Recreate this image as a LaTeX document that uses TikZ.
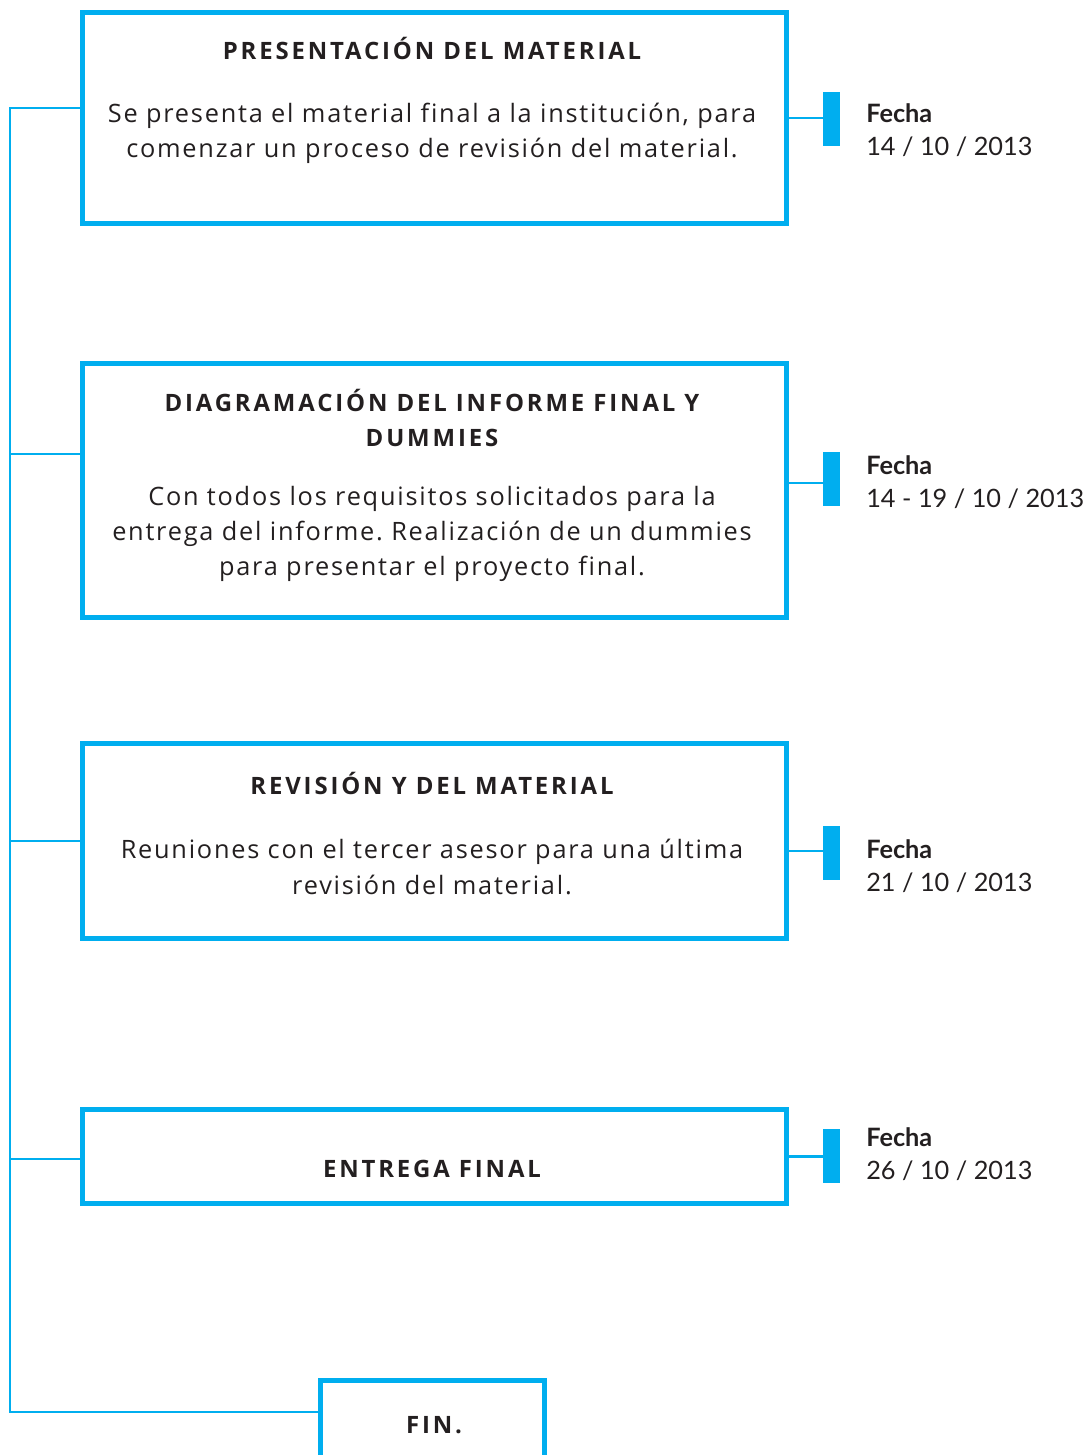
\documentclass[tikz,border=0pt]{standalone}
\usepackage{fontspec}
\setmainfont{Open Sans}[LetterSpace=7,Ligatures={NoCommon}]
\newfontfamily\titfont{Open Sans}[LetterSpace=12,Ligatures={NoCommon}]
\newfontfamily\fechafont{Lato}
\usetikzlibrary{positioning}
\definecolor{azul}{HTML}{00AEEF}
\definecolor{tinta}{HTML}{231F20}
\frenchspacing

\begin{document}
\begin{tikzpicture}[x=0.025cm,y=-0.025cm,
    caja/.style={draw=azul,line width=3.5pt,minimum width=17.6cm,inner sep=0pt},
    titulo/.style={font=\titfont\bfseries\fontsize{17}{25}\selectfont,text=tinta,align=center},
    texto/.style={font=\fontsize{18}{25}\selectfont,text=tinta,align=center},
    linea/.style={draw=azul,line width=1.8pt},
    marca/.style={fill=azul,minimum width=0.425cm,minimum height=1.35cm,inner sep=0pt},
    fecha/.style={font=\fechafont\fontsize{18}{23.5}\selectfont,text=tinta,align=left,anchor=north west,inner sep=0pt}]
    \useasboundingbox (0,0) rectangle (1087,1455);
    \clip (0,0) rectangle (1087,1455);

    \node[caja,minimum height=5.275cm] (b1) at (434.5,118) {};
    \node[caja,minimum height=6.35cm] (b2) at (434.5,490.5) {};
    \node[caja,minimum height=4.875cm] (b3) at (434.5,841) {};
    \node[caja,minimum height=2.35cm] (b4) at (434.5,1156.5) {};
    \node[caja,minimum width=5.6cm,minimum height=2.2375cm] (fin) at (432.5,1425) {};

    \node[titulo] (t1) at (432,48) {PRESENTACIÓN DEL MATERIAL};
    \node[texto] (d1) at (432,133.5) {Se presenta el material final a la institución, para\\comenzar un proceso de revisión del material.};
    \node[titulo] (t2) at (432,418) {DIAGRAMACIÓN DEL INFORME FINAL Y\\DUMMIES};
    \node[texto] (d2) at (432,534) {Con todos los requisitos solicitados para la\\entrega del informe. Realización de un dummies\\para presentar el proyecto final.};
    \node[titulo] (t3) at (432,783) {REVISIÓN Y DEL MATERIAL};
    \node[texto] (d3) at (432,867) {Reuniones con el tercer asesor para una última\\revisión del material.};
    \node[titulo] (t4) at (432,1169) {ENTREGA FINAL};
    \node[titulo] (tf) at (434,1425) {FIN.};

    \node[marca] (f1) at (831.5,119) {};
    \node[marca] (f2) at (831.5,479) {};
    \node[marca] (f3) at (831.5,853) {};
    \node[marca] (f4) at (831.5,1156) {};

    \node[fecha] (h1) at (866,103) {\textbf{Fecha}\\14 / 10 / 2013};
    \node[fecha] (h2) at (866,455) {\textbf{Fecha}\\14 - 19 / 10 / 2013};
    \node[fecha] (h3) at (866,839) {\textbf{Fecha}\\21 / 10 / 2013};
    \node[fecha] (h4) at (866,1127) {\textbf{Fecha}\\26 / 10 / 2013};

    \coordinate (tr) at (10,0);
    \coordinate (l1) at ([yshift=2.5mm]b1.west);
    \coordinate (l2) at ([yshift=9.125mm]b2.west);
    \coordinate (l4) at ([yshift=-0.625mm]b4.west);
    \coordinate (lf) at ([yshift=3.25mm]fin.west);
    \draw[linea] (l1) -- (l1 -| tr) |- (lf);
    \draw[linea] (l2) -- (l2 -| tr);
    \draw[linea] (b3.west) -- (b3.west -| tr);
    \draw[linea] (l4) -- (l4 -| tr);

    \coordinate (r2) at ([yshift=1.875mm]b2.east);
    \coordinate (r3) at ([yshift=-2.5mm]b3.east);
    \draw[linea] (b1.east) -- (b1.east -| f1.west);
    \draw[linea] (r2) -- (r2 -| f2.west);
    \draw[linea] (r3) -- (r3 -| f3.west);
    \draw[linea] (b4.east) -- (b4.east -| f4.west);
\end{tikzpicture}
\end{document}
